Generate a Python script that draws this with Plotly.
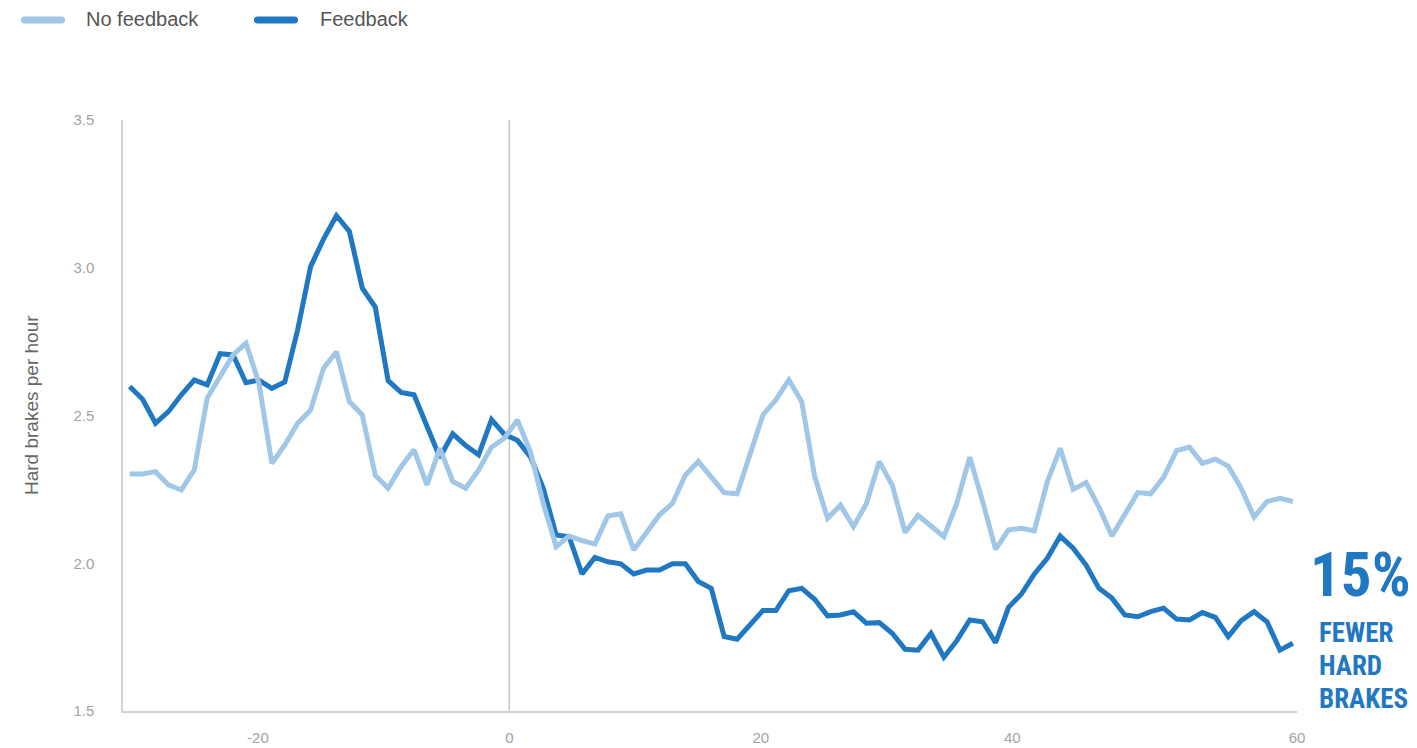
import plotly.graph_objects as go

# Sampling grid: one sample per step, starting before the feedback switch-on at 0
x_start = -30.2
x_step = 1.028
n_samples = 91

no_feedback = [
    2.302, 2.302, 2.310, 2.265, 2.248, 2.316, 2.559, 2.634, 2.705, 2.745,
    2.610, 2.338, 2.400, 2.474, 2.519, 2.660, 2.716, 2.547, 2.502, 2.298,
    2.254, 2.327, 2.384, 2.265, 2.389, 2.277, 2.254, 2.316, 2.393, 2.423,
    2.485, 2.378, 2.203, 2.056, 2.092, 2.077, 2.065, 2.160, 2.167, 2.045,
    2.104, 2.164, 2.203, 2.299, 2.344, 2.291, 2.239, 2.235, 2.367, 2.502,
    2.553, 2.620, 2.547, 2.294, 2.152, 2.197, 2.124, 2.201, 2.344, 2.265,
    2.104, 2.162, 2.126, 2.090, 2.203, 2.359, 2.209, 2.047, 2.113, 2.118,
    2.110, 2.276, 2.389, 2.250, 2.273, 2.190, 2.092, 2.164, 2.239, 2.235,
    2.291, 2.381, 2.393, 2.338, 2.352, 2.329, 2.254, 2.156, 2.209, 2.220,
    2.209,
]

feedback = [
    2.598, 2.555, 2.474, 2.513, 2.570, 2.620, 2.604, 2.709, 2.705, 2.611,
    2.620, 2.592, 2.613, 2.790, 3.004, 3.097, 3.176, 3.123, 2.931, 2.867,
    2.618, 2.578, 2.570, 2.465, 2.358, 2.438, 2.398, 2.367, 2.486, 2.436,
    2.416, 2.361, 2.254, 2.096, 2.090, 1.964, 2.020, 2.005, 1.998, 1.964,
    1.977, 1.977, 1.998, 1.998, 1.938, 1.915, 1.752, 1.743, 1.791, 1.840,
    1.840, 1.907, 1.915, 1.878, 1.822, 1.825, 1.836, 1.797, 1.799, 1.763,
    1.709, 1.706, 1.763, 1.682, 1.738, 1.808, 1.802, 1.731, 1.851, 1.896,
    1.964, 2.017, 2.092, 2.051, 1.994, 1.915, 1.882, 1.825, 1.819, 1.836,
    1.848, 1.811, 1.808, 1.833, 1.817, 1.752, 1.806, 1.836, 1.802, 1.706,
    1.729,
]

x_tick_vals = [-20, 0, 20, 40, 62.65]
x_tick_text = ["-20", "0", "20", "40", "60"]
y_tick_vals = [1.5, 2.0, 2.5, 3.0, 3.5]
y_tick_text = ["1.5", "2.0", "2.5", "3.0", "3.5"]

series_names = ["No feedback", "Feedback"]
callout_big = "15%"
callout_lines = ["FEWER", "HARD", "BRAKES"]

x = [x_start + x_step * i for i in range(n_samples)]

DARK = "#1f78c1"
LIGHT = "#a0c6e8"
TICK_GREY = "#a3a3a3"
TEXT_GREY = "#555555"
AXIS_GREY = "#d2d2d2"
BASE_FONT = "Liberation Sans, Arial, sans-serif"
NARROW_FONT = "Roboto Condensed, Liberation Sans Narrow, Roboto, sans-serif"

W, H = 1417, 748
L, R, T, B = 123, 120, 120, 37

fig = go.Figure()
fig.add_trace(go.Scatter(x=x, y=feedback, mode="lines", name=series_names[1],
                         line=dict(color=DARK, width=5), showlegend=False))
fig.add_trace(go.Scatter(x=x, y=no_feedback, mode="lines", name=series_names[0],
                         line=dict(color=LIGHT, width=5), showlegend=False))

# vertical marker at the feedback switch-on
fig.add_shape(type="line", xref="x", yref="y", x0=0, x1=0, y0=1.5, y1=3.5,
              line=dict(color="#c6c6c6", width=1.5), layer="below")


def px_x(p):
    return (p - L) / (W - L - R)


def px_y(p):
    return (H - B - p) / (H - T - B)


# legend: pill-shaped swatches with labels
def pill(cx, cy, color, half_len=18.5, r=3.6):
    k = r * 1.33
    path = (f"M {-half_len},{-r} L {half_len},{-r} "
            f"C {half_len + k},{-r} {half_len + k},{r} {half_len},{r} "
            f"L {-half_len},{r} "
            f"C {-half_len - k},{r} {-half_len - k},{-r} {-half_len},{-r} Z")
    fig.add_shape(type="path", xref="paper", yref="paper",
                  xsizemode="pixel", ysizemode="pixel",
                  xanchor=px_x(cx), yanchor=px_y(cy), path=path,
                  fillcolor=color, line=dict(width=0))


pill(43, 20, LIGHT)
pill(276, 20, DARK)
for label, lx in zip(series_names, [84, 318]):
    fig.add_annotation(x=px_x(lx), y=px_y(19), xref="paper", yref="paper",
                       text=label, showarrow=False, xanchor="left", yanchor="middle",
                       font=dict(family=BASE_FONT, size=20, color=TEXT_GREY))

# y-axis title
fig.add_annotation(x=px_x(31), y=px_y(405), xref="paper", yref="paper",
                   text="Hard brakes per hour", textangle=-90, showarrow=False,
                   xanchor="center", yanchor="middle",
                   font=dict(family=BASE_FONT, size=19, color="#666666"))

# callout on the right
fig.add_annotation(x=px_x(1413), y=px_y(575), xref="paper", yref="paper",
                   text=f"<b>{callout_big}</b>", showarrow=False,
                   xanchor="right", yanchor="middle",
                   font=dict(family=NARROW_FONT, size=61, color=DARK))
for line_text, cy in zip(callout_lines, [633, 666, 699]):
    fig.add_annotation(x=px_x(1317), y=px_y(cy), xref="paper", yref="paper",
                       text=f"<b>{line_text}</b>", showarrow=False,
                       xanchor="left", yanchor="middle",
                       font=dict(family=NARROW_FONT, size=27, color=DARK))

fig.update_layout(
    width=W, height=H,
    margin=dict(l=L, r=R, t=T, b=B, autoexpand=False),
    paper_bgcolor="white", plot_bgcolor="white",
    font=dict(family=BASE_FONT, color=TICK_GREY),
    showlegend=False,
    xaxis=dict(range=[-30.73, 62.65], showgrid=False, zeroline=False,
               automargin=False,
               showline=True, linecolor=AXIS_GREY, linewidth=1.5,
               tickvals=x_tick_vals, ticktext=x_tick_text, ticks="",
               ticklabelstandoff=12,
               tickfont=dict(family=BASE_FONT, size=15, color=TICK_GREY)),
    yaxis=dict(range=[1.5, 3.5], showgrid=False, zeroline=False,
               automargin=False,
               showline=True, linecolor=AXIS_GREY, linewidth=1.5,
               tickvals=y_tick_vals, ticktext=y_tick_text, ticks="",
               ticklabelstandoff=24,
               tickfont=dict(family=BASE_FONT, size=15, color=TICK_GREY)),
)

fig.write_html("out.html")
